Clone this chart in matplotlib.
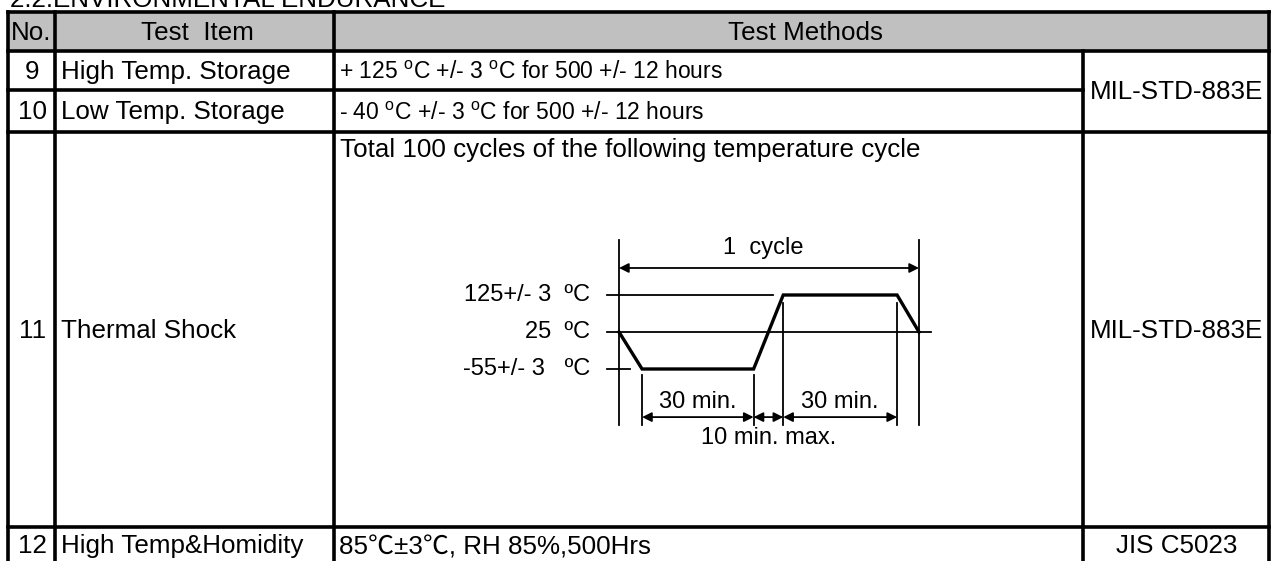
import matplotlib
matplotlib.use('Agg')
import matplotlib.pyplot as plt
from matplotlib.patches import Rectangle

plt.rcParams['font.family'] = ['Liberation Sans', 'Noto Sans CJK SC', 'DejaVu Sans']
plt.rcParams['mathtext.fontset'] = 'custom'
plt.rcParams['mathtext.rm'] = 'Liberation Sans'

# table content
title = '2.2.ENVIRONMENTAL ENDURANCE'
headers = ['No.', 'Test  Item', 'Test Methods']
nos = ['9', '10', '11', '12']
items = ['High Temp. Storage', 'Low Temp. Storage', 'Thermal Shock', 'High Temp&Homidity']
methods = ['+ 125 $^{\\mathrm{o}}$C +/- 3 $^{\\mathrm{o}}$C for 500 +/- 12 hours',
           '- 40 $^{\\mathrm{o}}$C +/- 3 $^{\\mathrm{o}}$C for 500 +/- 12 hours',
           'Total 100 cycles of the following temperature cycle',
           '85\u2103\u00b13\u2103, RH 85%,500Hrs']
standards = ['MIL-STD-883E', 'MIL-STD-883E', 'JIS C5023']

# thermal cycle diagram
temps = [125, 25, -55]
temp_labels = ['125+/- 3  \u00baC', '25  \u00baC', '-55+/- 3   \u00baC']
profile_t = [0, 6, 35, 42.7, 72.3, 78]        # minutes (schematic)
profile_temp = [25, -55, -55, 125, 125, 25]
span_labels = ['30 min.', '10 min. max.', '30 min.']

# layout in pixels
W, H = 1276, 561
col_x = [8, 55, 334, 1083, 1269]
row_y = [12, 51, 90, 132, 527, 563]
lw = 2.6

fig = plt.figure(figsize=(W / 100, H / 100), dpi=100)
ax = fig.add_axes([0, 0, 1, 1])
ax.set_xlim(0, W)
ax.set_ylim(H, 0)
ax.axis('off')

ax.add_patch(Rectangle((col_x[0], row_y[0]), col_x[-1] - col_x[0], row_y[1] - row_y[0],
                       facecolor='#c0c0c0', edgecolor='none'))

fs = 18.7
# section title, cut by the top edge like in the scanned page
ax.text(col_x[0] + 2, 7, title, fontsize=fs, va='baseline', ha='left')

# grid lines
for y in [row_y[0], row_y[1], row_y[3], row_y[4]]:
    ax.plot([col_x[0], col_x[-1]], [y, y], color='black', lw=lw, solid_capstyle='projecting')
ax.plot([col_x[0], col_x[3]], [row_y[2], row_y[2]], color='black', lw=lw)
for x in [col_x[0], col_x[1], col_x[2], col_x[4]]:
    ax.plot([x, x], [row_y[0], H], color='black', lw=lw, solid_capstyle='projecting')
ax.plot([col_x[3], col_x[3]], [row_y[1], H], color='black', lw=lw)

# header
hy = (row_y[0] + row_y[1]) / 2 + 1
ax.text(col_x[0] + 3, hy, headers[0], fontsize=fs, va='center', ha='left')
ax.text((col_x[1] + col_x[2]) / 2 + 3, hy, headers[1], fontsize=fs, va='center', ha='center')
ax.text((col_x[2] + col_x[4]) / 2 + 4, hy, headers[2], fontsize=fs, va='center', ha='center')

for i in range(4):
    yc = (row_y[i + 1] + row_y[i + 2]) / 2 + 1
    ax.text((col_x[0] + col_x[1]) / 2 + 1, yc, nos[i], fontsize=fs, va='center', ha='center')
    ax.text(col_x[1] + 6, yc, items[i], fontsize=fs, va='center', ha='left')
    if i == 2:
        ax.text(col_x[2] + 6, row_y[3] + 18, methods[i], fontsize=fs, va='center', ha='left')
    elif i == 3:
        ax.text(col_x[2] + 5, yc + 1, methods[i], fontsize=fs, va='center', ha='left')
    else:
        # narrow font in the original, a bit smaller here
        ax.text(col_x[2] + 5, yc + 1, methods[i], fontsize=16.5, va='center', ha='left')

std_x = (col_x[3] + col_x[4]) / 2 + 1
ax.text(std_x, (row_y[1] + row_y[3]) / 2, standards[0], fontsize=fs, va='center', ha='center')
ax.text(std_x, (row_y[3] + row_y[4]) / 2 + 1, standards[1], fontsize=fs, va='center', ha='center')
ax.text(std_x, (row_y[4] + row_y[5]) / 2 + 1, standards[2], fontsize=fs, va='center', ha='center')

# diagram axes: 3.846 px per minute, 37 px per temperature level
px_min = 300 / 78
px_lvl = 37
gx0, gx1, gy0, gy1 = 560, 980, 225, 455
t0_px, l0_px = 619, 332
dg = fig.add_axes([gx0 / W, 1 - gy1 / H, (gx1 - gx0) / W, (gy1 - gy0) / H])
dg.set_xlim((gx0 - t0_px) / px_min, (gx1 - t0_px) / px_min)
dg.set_ylim((l0_px - gy1) / px_lvl, (l0_px - gy0) / px_lvl)
dg.axis('off')
dg.patch.set_alpha(0)

level = {t: 1 - i for i, t in enumerate(temps)}
prof_lvl = [level[t] for t in profile_temp]
thin = 1.3
dfs = 17

# reference level lines and labels
dg.plot([-3.1, 40], [level[125]] * 2, color='black', lw=thin)
dg.plot([-3.1, 81], [level[25]] * 2, color='black', lw=thin)
dg.plot([-3.1, 2.9], [level[-55]] * 2, color='black', lw=thin)
for t, lab in zip(temps, temp_labels):
    dg.text(-7.5, level[t], lab, fontsize=dfs, ha='right', va='center')

# temperature profile
dg.plot(profile_t, prof_lvl, color='black', lw=2.4, solid_joinstyle='miter')

# guide lines
bot = -2.51
for t in [profile_t[0], profile_t[-1]]:
    dg.plot([t, t], [2.49, bot], color='black', lw=thin)
for t in profile_t[1:3]:
    dg.plot([t, t], [-1.16, bot], color='black', lw=thin)
for t in profile_t[3:5]:
    dg.plot([t, t], [0.78, bot], color='black', lw=thin)

arrow = dict(arrowstyle='<|-|>', color='black', lw=thin, mutation_scale=14,
             shrinkA=0, shrinkB=0)
dg.annotate('', xy=(profile_t[0], 1.73), xytext=(profile_t[-1], 1.73), arrowprops=arrow)
dg.text((profile_t[0] + profile_t[-1]) / 2 - 1.5, 2.27, '1  cycle', fontsize=dfs,
        ha='center', va='center')

spans = [(profile_t[1], profile_t[2]), (profile_t[2], profile_t[3]), (profile_t[3], profile_t[4])]
for (a, b), lab, ty in zip(spans, span_labels, [-1.89, -2.86, -1.89]):
    dg.annotate('', xy=(a, -2.3), xytext=(b, -2.3), arrowprops=arrow)
    dg.text((a + b) / 2, ty, lab, fontsize=dfs, ha='center', va='center')

fig.savefig('out.png', dpi=100)
